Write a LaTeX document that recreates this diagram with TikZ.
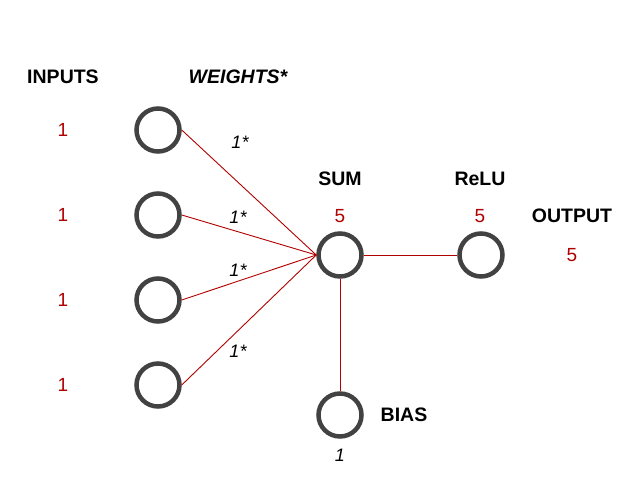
\documentclass[tikz,border=0pt]{standalone}
\usepackage{fontspec}
\setmainfont{Liberation Sans}
\usepackage{tikz}
\usetikzlibrary{positioning, calc}
\definecolor{wire}{HTML}{B00000}
\definecolor{rim}{HTML}{424242}
\tikzset{neuron/.style={circle,draw=rim,line width=4.5pt,minimum size=43pt,inner sep=0pt},
         head/.style={font=\fontsize{19.5}{22}\selectfont\bfseries,text=black},
         val/.style={font=\fontsize{19}{22}\selectfont,text=wire},
         wlabel/.style={font=\fontsize{18}{20}\selectfont\itshape,text=black},
         link/.style={draw=wire,line width=0.9pt}}

\begin{document}
\begin{tikzpicture}[x=1pt,y=-1pt]
    \useasboundingbox (0,0) rectangle (629,500);
    % Column headings
    \node (hin) [head] at (63,77) {INPUTS};
    \node (hw) [head] at (238,77) {\itshape WEIGHTS*};
    % Input neurons with their values
    \foreach \i/\y in {1/130,2/215,3/300,4/385} {
      \node (in\i) [neuron] at (158,\y) {};
      \node (v\i) [val] at (63,\y) {1};
    }
    % Sum, activation and bias
    \node (sum) [neuron] at (340,255) {};
    \node (relu) [neuron] at (481,255) {};
    \node (bias) [neuron] at (340,415) {};
    \node (hsum) [head] at (340,179) {SUM};
    \node (vsum) [val] at (340,216) {5};
    \node (hrelu) [head] at (480,179) {ReLU};
    \node (vrelu) [val] at (480,216) {5};
    \node (hout) [head] at (572,216) {OUTPUT};
    \node (vout) [val] at (572,255) {5};
    \node (hbias) [head] at (404,415) {BIAS};
    \node (vbias) [wlabel] at (340,455) {1};
    % Weight labels
    \node (w1) [wlabel] at (240,142) {1*};
    \node (w2) [wlabel] at (238,217) {1*};
    \node (w3) [wlabel] at (238,270) {1*};
    \node (w4) [wlabel] at (238,351) {1*};
    % Connections
    \foreach \i in {1,...,4}
      \draw[link] (in\i.east) -- (sum.west);
    \draw[link] (sum.east) -- (relu.west);
    \draw[link] (sum.south) -- (bias.north);
\end{tikzpicture}
\end{document}
